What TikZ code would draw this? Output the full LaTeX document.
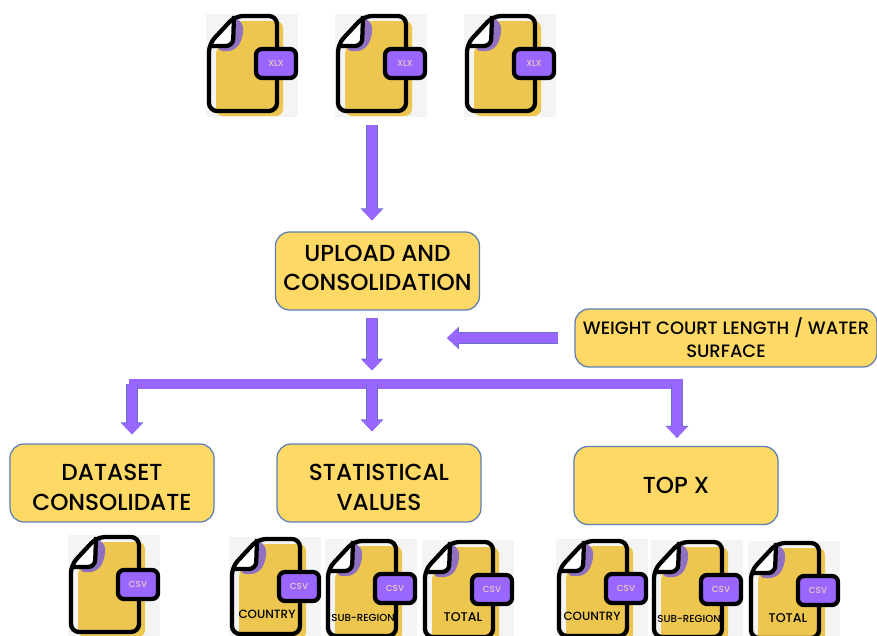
\documentclass[tikz,border=0pt]{standalone}
\usepackage{fontspec}
\setmainfont{Poppins Medium}
\usetikzlibrary{arrows.meta}

\definecolor{boxfill}{HTML}{FFD966}
\definecolor{boxedge}{HTML}{5B7DB0}
\definecolor{flowfill}{HTML}{9966FF}
\definecolor{flowedge}{HTML}{6A70C8}
\definecolor{docfill}{HTML}{EDC650}
\definecolor{docfold}{HTML}{9070C0}
\definecolor{docback}{HTML}{F4F4F4}
\definecolor{doctext}{HTML}{E8CDBE}

\tikzset{
	stepbox/.style={draw=boxedge, line width=0.025cm, fill=boxfill, rounded corners=0.28cm,
		minimum width=4.08cm, minimum height=1.56cm, align=center, inner sep=0pt,
		font=\fontsize{13.2}{16.8}\selectfont},
	notebox/.style={stepbox, minimum width=6.04cm, minimum height=1.16cm,
		font=\fontsize{10.2}{13.2}\selectfont},
	textdown/.style={execute at begin node={\rule{0pt}{#1}}},
	textup/.style={execute at end node={\rule[-#1]{0pt}{0pt}}},
	flow/.style={line width=0.2cm, draw=flowfill, -{Triangle[width=0.4cm,length=0.22cm]},
		preaction={draw=flowedge, line width=0.23cm, -{Triangle[width=0.44cm,length=0.24cm]}}},
	docline/.style={draw=black, line width=0.085cm, line join=round},
	doclabel/.style={inner sep=0pt, font=\fontsize{6.8}{7}\selectfont},
	pics/fileicon/.style={code={
		\fill[docback] (0,0) rectangle (92,103);
		\fill[docfill, rounded corners=0.14cm] (30,7) -- (77,7) -- (77,102) -- (10,102) -- (10,34) -- cycle;
		\fill[docfold, rounded corners=0.14cm] (27,4) -- (37,7) -- (37,24) -- (29,37) -- (10,37) -- cycle;
		\fill[white] (29,3) -- (27,26) -- (21,31) -- (3,31) -- cycle;
		\draw[docline, rounded corners=0.16cm] (29,2) -- (71,2) -- (71,97) -- (3,97) -- (3,30) -- cycle;
		\draw[docline, rounded corners=0.14cm] (28,2) -- (27,32) -- (3,32);
		\draw[docline, fill=flowfill, rounded corners=0.12cm] (50,35) rectangle (90,64);
		\node[inner sep=0pt, text=doctext, font=\fontsize{5}{6}\selectfont] at (70,49.5) {#1};
		\coordinate (-south) at (37,97);
	}},
}

\begin{document}
\begin{tikzpicture}[x=0.02cm, y=-0.02cm]
	\clip (0,0) rectangle (877,636);

	\pic (xlsa) at (206,14) {fileicon=XLX};
	\pic (xlsb) at (335,14) {fileicon=XLX};
	\pic (xlsc) at (464,14) {fileicon=XLX};

	\node [stepbox, textup=3.4pt] (upload) at (377.5,271) {UPLOAD AND\\CONSOLIDATION};
	\node [notebox] (weight) at (726,338) {WEIGHT COURT LENGTH / WATER\\SURFACE};
	\node [stepbox, textdown=31pt] (dataset) at (112,483) {DATASET\\CONSOLIDATE};
	\node [stepbox, textdown=31pt] (stats) at (379,483) {STATISTICAL\\VALUES};
	\node [stepbox] (topx) at (676,485.5) {TOP X};

	\coordinate (merge) at (447,338);
	\coordinate (busl) at (129,384);
	\coordinate (busr) at (682.5,384);
	\coordinate (busa) at (132,384);
	\coordinate (busb) at (372,384);
	\coordinate (busc) at (677,384);

	\draw [flow, shorten <=0.28cm, shorten >=0.22cm] (xlsb-south) -- (xlsb-south |- upload.north);
	\draw [flow, shorten <=0.15cm, shorten >=0.27cm] (xlsb-south |- upload.south) -- (busb);
	\draw [flow, shorten <=0.32cm] (weight.west) -- (merge);

	\draw [draw=flowfill, line width=0.2cm] (busl) -- (busr);
	\draw [flow, shorten >=0.18cm] (busa) -- (busa |- dataset.north);
	\draw [flow, shorten >=0.24cm] (busb) -- (busb |- stats.north);
	\draw [flow, shorten >=0.16cm] (busc) -- (busc |- topx.north);

	\pic (csva) at (68,535) {fileicon=CSV};
	\pic (csvb) at (229,537) {fileicon=CSV};
	\pic (csvc) at (325,539) {fileicon=CSV};
	\pic (csvd) at (422,540) {fileicon=CSV};
	\pic (csve) at (556,539) {fileicon=CSV};
	\pic (csvf) at (651,540) {fileicon=CSV};
	\pic (csvg) at (748,541) {fileicon=CSV};

	\node [doclabel] (lbla) at (267,614) {COUNTRY};
	\node [doclabel, font=\fontsize{5.8}{7}\selectfont] (lblb) at (363,618) {SUB-REGION};
	\node [doclabel, font=\fontsize{7.2}{8}\selectfont] (lblc) at (463,617) {TOTAL};
	\node [doclabel] (lbld) at (592,616) {COUNTRY};
	\node [doclabel, font=\fontsize{5.8}{7}\selectfont] (lble) at (689,619) {SUB-REGION};
	\node [doclabel, font=\fontsize{7.2}{8}\selectfont] (lblf) at (788,618) {TOTAL};
\end{tikzpicture}
\end{document}
